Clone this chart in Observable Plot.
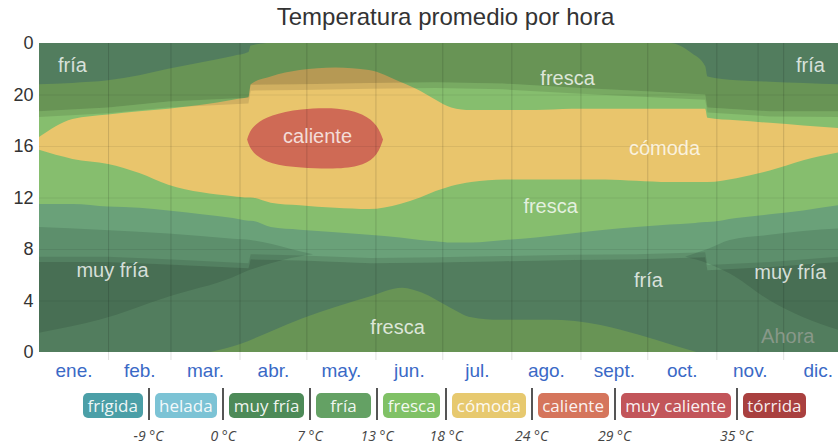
<!DOCTYPE html>
<html><head><meta charset="utf-8">
<script src="https://cdn.jsdelivr.net/npm/d3@7"></script>
<script src="https://cdn.jsdelivr.net/npm/@observablehq/plot@0.6"></script>
<style>
body{margin:0;background:#fff;width:838px;height:444px;overflow:hidden;position:relative;font-family:"Liberation Sans",Arial,sans-serif;}
#title{height:32px;line-height:34px;font-size:24px;color:#333;text-align:center;margin-left:39px;width:813px;}
#chart svg{display:block;}
#legend{position:absolute;left:83px;top:388px;display:flex;align-items:flex-start;font-family:"Open Sans",sans-serif;}
.pill{margin-top:5px;height:25px;line-height:25px;padding:0 4.6px;min-width:46px;text-align:center;border-radius:5px;color:rgba(255,255,255,0.93);font-size:17px;}
.sep{width:2px;height:32px;background:#555;margin:0 5px;position:relative;}
.tl{position:absolute;top:38px;left:1px;transform:translateX(-50%);white-space:nowrap;font-style:italic;font-size:14px;color:#444;}
</style></head><body>
<div id="title">Temperatura promedio por hora</div>
<div id="chart"></div>
<div id="legend"></div>
<script>
// ---- axis data ----
const monthNames = ["ene.","feb.","mar.","abr.","may.","jun.","jul.","ago.","sept.","oct.","nov.","dic."];
const monthMid = [15.5, 45, 74.5, 105, 135.5, 166, 196.5, 227.5, 258, 288.5, 319, 349.5];
const monthStart = [31, 59, 90, 120, 151, 181, 212, 243, 273, 304, 334];
const hourTicks = [0, 4, 8, 12, 16, 20, 24];
const nowDay = 322.5;

// ---- temperature category boundaries (hour of day), sampled by day of year ----
const days = [0, 15, 31, 45, 58, 73, 87, 94, 95, 104, 117, 133, 148, 162, 171, 178, 185, 194, 209, 223, 239, 254, 268, 283, 293, 299, 300, 313, 328, 343, 359];
// fresca (>= 13 °C) daytime span
const frescaStart = [11.5, 11.5, 11.3, 11.2, 11.0, 10.7, 10.4, 10.2, 10.2, 9.7, 9.5, 9.3, 9.1, 8.9, 8.7, 8.6, 8.5, 8.5, 8.7, 8.9, 9.2, 9.5, 9.7, 9.9, 10.0, 10.1, 10.1, 10.4, 10.7, 11.0, 11.4];
const frescaEnd = [20.8, 20.9, 21.1, 21.5, 22.0, 22.5, 23.0, 23.3, 23.8, 24, 24, 24, 24, 24, 24, 24, 24, 24, 24, 24, 24, 24, 24, 24, 23.2, 22.2, 21.4, 21.1, 21.0, 20.9, 20.8];
// cómoda (>= 18 °C)
const comodaStart = [15.7, 15.0, 14.6, 13.9, 13.0, 12.4, 12.1, 12.0, 12.0, 11.6, 11.4, 11.2, 11.1, 11.5, 12.0, 12.5, 12.9, 13.2, 13.4, 13.4, 13.4, 13.4, 13.3, 13.2, 13.2, 13.2, 13.2, 13.5, 14.1, 14.9, 15.5];
const comodaEnd = [16.7, 18.1, 18.45, 18.7, 18.9, 19.2, 19.6, 19.8, 20.8, 21.4, 21.9, 22.1, 21.9, 21.0, 20.3, 19.6, 19.0, 18.8, 18.8, 18.8, 18.9, 18.9, 18.9, 18.9, 18.9, 18.9, 18.2, 18.0, 17.8, 17.6, 17.4];
// fresca after midnight (warm nights)
const frescaNightDays = [77, 90, 104, 118, 133, 148, 163, 172, 184, 194, 207, 229, 252, 270, 285, 295];
const frescaNightEnd = [0, 0.6, 1.6, 2.6, 3.5, 4.3, 5.0, 4.6, 3.5, 2.7, 2.5, 2.5, 2.1, 1.3, 0.5, 0];
// muy fría (< 7 °C)
const muyFriaSpringDays = [0, 27, 58, 87, 95, 104, 113, 123];
const muyFriaSpringFrom = [1.5, 2.5, 4.3, 5.8, 6.4, 6.9, 7.3, 7.6];
const muyFriaSpringTo = [9.7, 9.5, 9.2, 8.8, 8.7, 8.4, 8.0, 7.6];
const muyFriaFallDays = [290, 300, 310, 328, 343, 359];
const muyFriaFallFrom = [7.4, 6.9, 6.1, 4.0, 2.7, 1.7];
const muyFriaFallTo = [7.4, 8.0, 8.7, 9.1, 9.4, 9.6];
// caliente (>= 24 °C)
const calienteDays = [93.4, 94.5, 97, 103.7, 117, 135, 146, 152, 154.4];
const calienteFrom = [16.5, 15.9, 15.3, 14.6, 14.3, 14.2, 14.5, 15.3, 16.5];
const calienteTo = [16.5, 17.1, 17.7, 18.4, 18.9, 19.0, 18.5, 17.6, 16.5];

// ---- night and civil twilight (hour of day) ----
const sunDays = [0, 31, 58, 94, 95, 118, 149, 178, 208, 239, 268, 299, 300, 328, 359];
const civilDawn = [7.0, 7.0, 6.8, 6.5, 7.2, 7.1, 6.9, 6.95, 7.05, 7.15, 7.2, 7.35, 6.35, 6.6, 7.0];
const sunrise = [7.4, 7.4, 7.2, 6.9, 7.6, 7.5, 7.3, 7.35, 7.45, 7.55, 7.6, 7.75, 6.75, 7.0, 7.4];
const sunset = [18.25, 18.55, 19.0, 19.3, 20.3, 20.35, 20.45, 20.5, 20.4, 20.1, 19.85, 19.6, 18.6, 18.3, 18.25];
const civilDusk = [18.7, 19.0, 19.45, 19.75, 20.75, 20.8, 20.9, 20.95, 20.85, 20.55, 20.3, 20.0, 19.0, 18.7, 18.7];

// ---- in-chart labels ----
const regionLabels = ["fría", "fría", "fresca", "caliente", "cómoda", "fresca", "muy fría", "muy fría", "fría", "fresca"];
const labelDays = [14.8, 346, 237, 124.8, 280.5, 229.4, 32.8, 337, 273.3, 160.7];
const labelHours = [22.3, 22.3, 21.3, 16.8, 15.8, 11.3, 6.4, 6.2, 5.6, 1.9];

// ---- legend ----
const categories = ["frígida", "helada", "muy fría", "fría", "fresca", "cómoda", "caliente", "muy caliente", "tórrida"];
const categoryColors = ["#4b9fa7", "#7cc3d5", "#4d8a58", "#64a164", "#80c166", "#e7c96f", "#d5755c", "#c2555a", "#a9403f"];
const thresholdLabels = ["-9 °C", "0 °C", "7 °C", "13 °C", "18 °C", "24 °C", "29 °C", "35 °C"];

// band colours in the chart (daylight)
const cMuyFria = "#5d8f6c", cFria = "#6aa179", cFresca = "#86be6e", cComoda = "#e9c56c", cCaliente = "#cf6a55";

const rows = (ds, a, b) => ds.map((d, i) => ({day: d, y1: a[i], y2: b[i]}));
const band = (data, fill, curve = "monotone-x", extra = {}) =>
  Plot.areaY(data, {x: "day", y1: "y1", y2: "y2", fill, curve, clip: true, ...extra});

const zeros = (n) => new Array(n).fill(0);
const full = (n) => new Array(n).fill(24);

const labelData = regionLabels.map((t, i) => ({text: t, day: labelDays[i], hour: labelHours[i]}));

const chart = Plot.plot({
  width: 838, height: 355,
  marginTop: 11, marginBottom: 35, marginLeft: 39, marginRight: 0,
  x: {domain: [0, 358.6], label: null},
  y: {domain: [0, 24], label: null},
  style: {fontFamily: "'Liberation Sans', Arial, sans-serif", background: "transparent"},
  marks: [
    band(rows(days, zeros(days.length), full(days.length)), cFria, "linear"),
    band(rows(muyFriaSpringDays, muyFriaSpringFrom, muyFriaSpringTo), cMuyFria),
    band(rows(muyFriaFallDays, muyFriaFallFrom, muyFriaFallTo), cMuyFria),
    band(rows(frescaNightDays, zeros(frescaNightDays.length), frescaNightEnd), cFresca),
    band(rows(days, frescaStart, frescaEnd), cFresca),
    band(rows(days, comodaStart, comodaEnd), cComoda),
    band(rows(calienteDays, calienteFrom, calienteTo), cCaliente, "basis"),
    // night & twilight shading
    band(rows(sunDays, zeros(sunDays.length), civilDawn), "#000", "linear", {fillOpacity: 0.22}),
    band(rows(sunDays, civilDawn, sunrise), "#000", "linear", {fillOpacity: 0.1}),
    band(rows(sunDays, sunset, civilDusk), "#000", "linear", {fillOpacity: 0.1}),
    band(rows(sunDays, civilDusk, full(sunDays.length)), "#000", "linear", {fillOpacity: 0.22}),
    // grid
    Plot.ruleY([4, 8, 12, 16, 20], {stroke: "#000", strokeOpacity: 0.07}),
    Plot.ruleX(monthStart, {stroke: "#000", strokeOpacity: 0.14}),
    Plot.ruleX([nowDay], {stroke: "#000", strokeOpacity: 0.12}),
    Plot.axisX(monthStart, {tickSize: 8, tickFormat: () => "", stroke: "#000", strokeOpacity: 0.12, label: null}),
    // labels
    Plot.text(labelData, {x: "day", y: "hour", text: "text", fill: "#fff", fillOpacity: 0.78, fontSize: 20}),
    Plot.text(["Ahora"], {x: nowDay, y: 1.25, text: d => d, textAnchor: "start", dx: 3, fill: "#889889", fontSize: 20}),
    // axes
    Plot.axisX(monthMid, {tickSize: 0, tickPadding: 11, tickFormat: d => monthNames[monthMid.indexOf(d)], fontSize: 19, fill: "#3a69c6", label: null}),
    Plot.axisY(hourTicks, {tickSize: 0, tickPadding: 6, tickFormat: d => d % 24, fontSize: 18, fill: "#333", label: null})
  ]
});
document.getElementById("chart").appendChild(chart);

const legendEl = document.getElementById("legend");
categories.forEach((name, i) => {
  const pill = document.createElement("div");
  pill.className = "pill";
  pill.textContent = name;
  pill.style.background = categoryColors[i];
  legendEl.appendChild(pill);
  if (i < thresholdLabels.length) {
    const sep = document.createElement("div");
    sep.className = "sep";
    const t = document.createElement("span");
    t.className = "tl";
    t.textContent = thresholdLabels[i];
    sep.appendChild(t);
    legendEl.appendChild(sep);
  }
});
</script>
</body></html>
